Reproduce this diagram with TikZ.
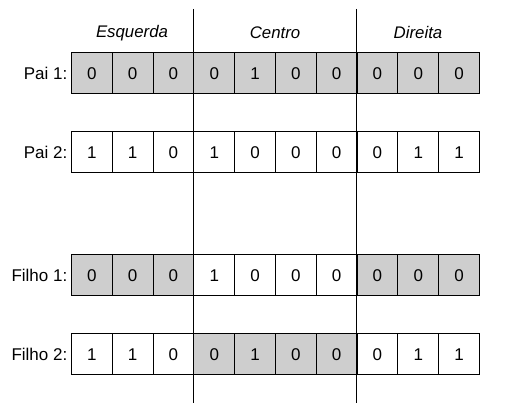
\documentclass[tikz,border=0pt]{standalone}
\usepackage{fontspec}
\setmainfont{Liberation Sans}
\definecolor{cellgray}{RGB}{206,206,206}
\begin{document}
\begin{tikzpicture}[x=1pt,y=-1pt,
  cell/.style={draw=black, line width=0.9pt, minimum width=40.8pt, minimum height=41pt,
    inner sep=0pt, font=\fontsize{17}{19}\selectfont, anchor=north west},
  lbl/.style={anchor=east, inner sep=0pt, font=\fontsize{17}{19}\selectfont},
  hdr/.style={inner sep=0pt, font=\fontsize{16.8}{19}\selectfont\itshape},
  divider/.style={draw=black, line width=0.9pt}]
\useasboundingbox (0,0) rectangle (508,419);
% row 1
\foreach \v/\f [count=\i] in {0/cellgray,0/cellgray,0/cellgray,0/cellgray,1/cellgray,0/cellgray,0/cellgray,0/cellgray,0/cellgray,0/cellgray}
  \node[cell, fill=\f] (r1c\i) at ({71+(\i-1)*40.8}, 52.3) {\v};
% row 2
\foreach \v/\f [count=\i] in {1/white,1/white,0/white,1/white,0/white,0/white,0/white,0/white,1/white,1/white}
  \node[cell, fill=\f] (r2c\i) at ({71+(\i-1)*40.8}, 131.3) {\v};
% row 3
\foreach \v/\f [count=\i] in {0/cellgray,0/cellgray,0/cellgray,1/white,0/white,0/white,0/white,0/cellgray,0/cellgray,0/cellgray}
  \node[cell, fill=\f] (r3c\i) at ({71+(\i-1)*40.8}, 254.3) {\v};
% row 4
\foreach \v/\f [count=\i] in {1/white,1/white,0/white,0/cellgray,1/cellgray,0/cellgray,0/cellgray,0/white,1/white,1/white}
  \node[cell, fill=\f] (r4c\i) at ({71+(\i-1)*40.8}, 333.3) {\v};
% labels
\node[lbl] (l1) at ([xshift=-3.5pt]r1c1.west) {Pai 1:};
\node[lbl] (l2) at ([xshift=-3.5pt]r2c1.west) {Pai 2:};
\node[lbl] (l3) at ([xshift=-3.5pt]r3c1.west) {Filho 1:};
\node[lbl] (l4) at ([xshift=-3.5pt]r4c1.west) {Filho 2:};
% headers
\node[hdr] (h1) at (132,33) {Esquerda};
\node[hdr] (h2) at (275,33) {Centro};
\node[hdr] (h3) at (418,33) {Direita};
% dividers
\coordinate (t1) at (193.4,9);
\coordinate (b1) at (193.4,403);
\coordinate (t2) at (356.6,9);
\coordinate (b2) at (356.6,403);
\draw[divider] (t1) -- (b1);
\draw[divider] (t2) -- (b2);
\end{tikzpicture}
\end{document}
